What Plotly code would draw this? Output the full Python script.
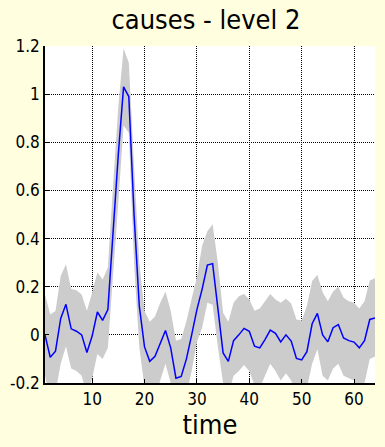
import plotly.graph_objects as go

time = list(range(1, 65))
mean = [0.0, -0.093, -0.068, 0.068, 0.127, 0.025, 0.015, 0.0, -0.073, -0.005,
        0.095, 0.06, 0.105, 0.45, 0.75, 1.03, 0.99, 0.5, 0.12, -0.05,
        -0.11, -0.089, -0.033, 0.018, -0.054, -0.18, -0.173, -0.1, 0.0, 0.105,
        0.19, 0.29, 0.296, 0.115, -0.075, -0.11, -0.024, 0.0, 0.027, 0.015,
        -0.047, -0.054, -0.02, 0.02, 0.006, -0.029, 0.0, -0.026, -0.098, -0.104,
        -0.07, 0.046, 0.089, 0.0, -0.029, 0.03, 0.043, -0.013, -0.024, -0.03,
        -0.054, -0.024, 0.064, 0.07]
upper = [0.168, 0.085, 0.099, 0.245, 0.293, 0.19, 0.185, 0.168, 0.1, 0.175,
         0.26, 0.23, 0.28, 0.62, 0.95, 1.19, 1.13, 0.7, 0.3, 0.1,
         0.054, 0.076, 0.133, 0.18, 0.1, -0.024, -0.017, 0.057, 0.15, 0.24,
         0.37, 0.43, 0.46, 0.3, 0.092, 0.054, 0.133, 0.16, 0.17, 0.147,
         0.1, 0.11, 0.14, 0.17, 0.147, 0.133, 0.15, 0.13, 0.064, 0.06,
         0.12, 0.224, 0.25, 0.177, 0.14, 0.18, 0.2, 0.154, 0.14, 0.133,
         0.11, 0.14, 0.226, 0.235]
lower = [-0.17, -0.27, -0.24, -0.12, -0.047, -0.14, -0.15, -0.17, -0.25, -0.18,
         -0.08, -0.1, -0.054, 0.25, 0.55, 0.87, 0.84, 0.3, -0.05, -0.22,
         -0.27, -0.25, -0.19, -0.12, -0.2, -0.33, -0.33, -0.25, -0.15, -0.03,
         0.03, 0.133, 0.125, -0.05, -0.2, -0.25, -0.17, -0.15, -0.125, -0.15,
         -0.21, -0.22, -0.17, -0.12, -0.15, -0.19, -0.16, -0.19, -0.25, -0.26,
         -0.22, -0.12, -0.06, -0.17, -0.19, -0.14, -0.12, -0.17, -0.18, -0.19,
         -0.25, -0.2, -0.1, -0.09]

x_ticks = [10, 20, 30, 40, 50, 60]
y_ticks = [-0.2, 0, 0.2, 0.4, 0.6, 0.8, 1, 1.2]
y_labels = ["-0.2", "0", "0.2", "0.4", "0.6", "0.8", "1", "1.2"]

font = "DejaVu Sans Condensed, Liberation Sans Narrow, Arial Narrow, sans-serif"

fig = go.Figure()
fig.add_trace(go.Scatter(
    x=time + time[::-1], y=upper + lower[::-1],
    fill="toself", fillcolor="rgb(204,204,204)", mode="none",
    hoverinfo="skip", showlegend=False))
fig.add_trace(go.Scatter(
    x=time, y=mean, mode="lines",
    line=dict(color="#0000ff", width=1.5), showlegend=False))

fig.update_layout(
    width=385, height=447,
    margin=dict(l=37, r=10, t=46, b=64),
    paper_bgcolor="#FFFFE0", plot_bgcolor="white",
    title=dict(text="causes - level 2", x=0.535, xanchor="center",
               y=0.957, yanchor="middle",
               font=dict(family=font, size=27, color="black")),
    font=dict(family=font, color="black"),
    showlegend=False,
)
fig.update_xaxes(
    range=[1, 64], tickvals=x_ticks, ticktext=[str(v) for v in x_ticks],
    showgrid=True, gridcolor="black", griddash="1px,1px", gridwidth=1,
    showline=True, linecolor="black", linewidth=1.5,
    ticks="inside", ticklen=4, tickcolor="black",
    tickfont=dict(family=font, size=17, color="black"),
    title=dict(text="time", font=dict(family=font, size=27, color="black"), standoff=0),
    zeroline=False)
fig.update_yaxes(
    range=[-0.2, 1.2], tickvals=y_ticks, ticktext=y_labels,
    showgrid=True, gridcolor="black", griddash="1px,1px", gridwidth=1,
    showline=True, linecolor="black", linewidth=1.5,
    ticks="inside", ticklen=4, tickcolor="black",
    tickfont=dict(family=font, size=17, color="black"),
    zeroline=False)

fig.write_html("out.html")
